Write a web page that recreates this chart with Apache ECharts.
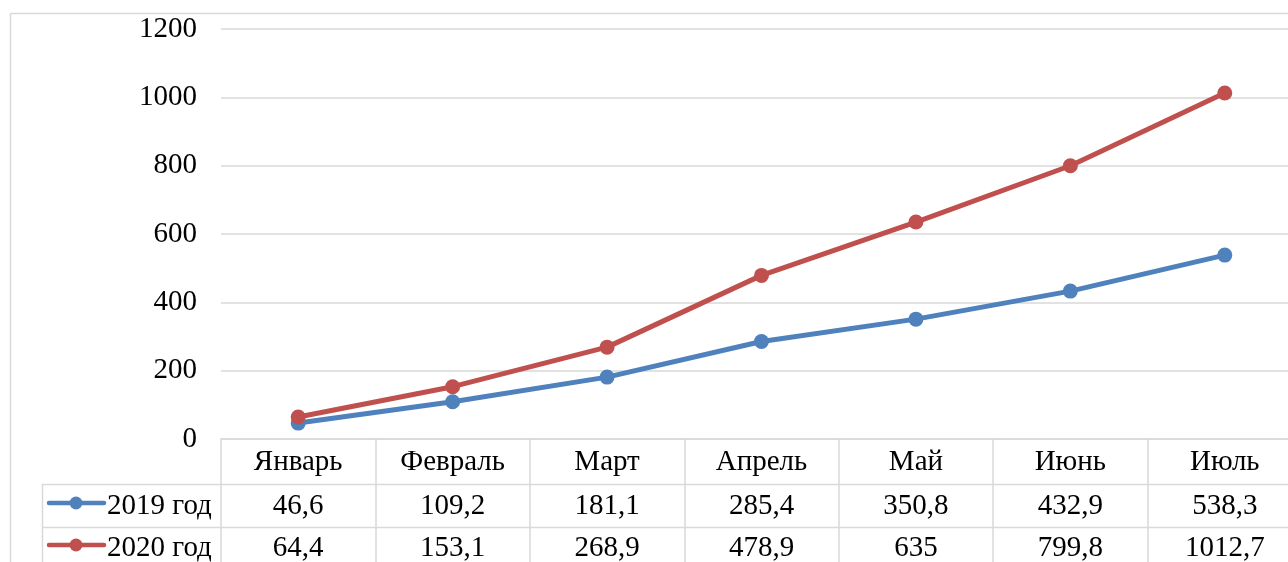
<!DOCTYPE html>
<html><head><meta charset="utf-8">
<script src="https://cdn.jsdelivr.net/npm/echarts@6/dist/echarts.min.js"></script>
<style>html,body{margin:0;padding:0;background:#fff;overflow:hidden;width:1288px;height:562px}#c{width:1320px;height:562px}</style>
</head><body><div id="c"></div>
<script>
const categories = ['Январь','Февраль','Март','Апрель','Май','Июнь','Июль'];
const seriesNames = ['2019 год','2020 год'];
const values2019 = [46.6,109.2,181.1,285.4,350.8,432.9,538.3];
const values2020 = [64.4,153.1,268.9,478.9,635,799.8,1012.7];
const yTicks = {min:0,max:1200,interval:200};

const FONT = '"Liberation Serif","Times New Roman",serif';
const FS = 29;
const colors = ['#4F81BD','#C0504D'];
const gridCol = '#d9d9d9';
const fmt = v => String(v).replace('.', ',');

const chart = echarts.init(document.getElementById('c'));
const seriesData = [values2019, values2020];
const option = {
  animation:false,
  textStyle:{fontFamily:FONT},
  grid:{left:221, top:29, height:410, width:1081},
  xAxis:{type:'category', data:categories, boundaryGap:true,
    axisLine:{lineStyle:{color:gridCol,width:1.5}},
    axisTick:{show:true,length:130,interval:0,lineStyle:{color:gridCol,width:1.5}},
    axisLabel:{fontFamily:FONT,fontSize:FS,color:'#000',margin:9,interval:0}},
  yAxis:{type:'value', min:yTicks.min, max:yTicks.max, interval:yTicks.interval,
    axisLine:{show:false}, axisTick:{show:false},
    axisLabel:{fontFamily:FONT,fontSize:FS,color:'#000',margin:24,formatter:v=>String(v)},
    splitLine:{lineStyle:{color:gridCol,width:1.5}}},
  series:seriesNames.map((n,i)=>({name:n,type:'line',data:seriesData[i],
    symbol:'circle',symbolSize:15,
    lineStyle:{color:colors[i],width:5},itemStyle:{color:colors[i]},z:3+i}))
};
chart.setOption(option);

const g = [];
// outer chart frame
g.push({type:'line',shape:{x1:10.5,y1:13.5,x2:1320,y2:13.5},style:{stroke:gridCol,lineWidth:1.5}});
g.push({type:'line',shape:{x1:10.5,y1:13.5,x2:10.5,y2:600},style:{stroke:gridCol,lineWidth:1.5}});
// table rows
[484.5,527.5].forEach(y=>g.push({type:'line',shape:{x1:42,y1:y,x2:1320,y2:y},style:{stroke:gridCol,lineWidth:1.5}}));
g.push({type:'line',shape:{x1:42.5,y1:484,x2:42.5,y2:600},style:{stroke:gridCol,lineWidth:1.5}});
const rowY = [506, 548];
seriesData.forEach((arr,r)=>{
  // legend key
  g.push({type:'line',shape:{x1:49,y1:rowY[r]-3,x2:104,y2:rowY[r]-3},style:{stroke:colors[r],lineWidth:4.5,lineCap:'round'}});
  g.push({type:'circle',shape:{cx:76,cy:rowY[r]-3,r:6.5},style:{fill:colors[r]}});
  g.push({type:'text',x:107,y:rowY[r],style:{text:seriesNames[r],font:FS+'px '+FONT,fill:'#000',align:'left',verticalAlign:'middle'}});
  arr.forEach((v,i)=>{
    const x = chart.convertToPixel({xAxisIndex:0}, i);
    g.push({type:'text',x:x,y:rowY[r],style:{text:fmt(v),font:FS+'px '+FONT,fill:'#000',align:'center',verticalAlign:'middle'}});
  });
});
chart.setOption({graphic:g});
</script></body></html>
